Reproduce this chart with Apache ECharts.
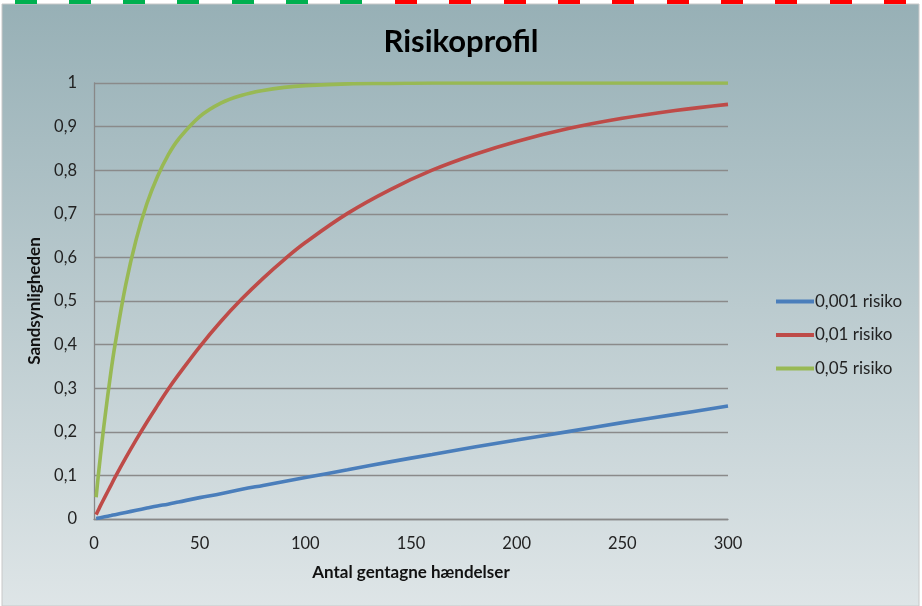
<!DOCTYPE html>
<html>
<head>
<meta charset="utf-8">
<script src="https://cdn.jsdelivr.net/npm/echarts@6/dist/echarts.min.js"></script>
<style>
html,body{margin:0;padding:0;background:#fff;}
#chart{width:922px;height:606px;}
</style>
</head>
<body>
<div id="chart"></div>
<script>
// Data
const titleText = "Risikoprofil";
const xName = "Antal gentagne hændelser";
const yName = "Sandsynligheden";
const seriesNames = ["0,001 risiko", "0,01 risiko", "0,05 risiko"];
const xValues = [1, 2, 3, 5, 8, 10, 15, 20, 25, 30, 35, 40, 50, 60, 70, 80, 90, 100, 120, 140, 160, 180, 200, 225, 250, 275, 300];
const risk0001 = [0.001, 0.002, 0.003, 0.005, 0.008, 0.010, 0.015, 0.020, 0.025, 0.030, 0.034, 0.039, 0.049, 0.058, 0.068, 0.077, 0.086, 0.095, 0.113, 0.131, 0.148, 0.165, 0.181, 0.201, 0.221, 0.240, 0.259];
const risk001 = [0.010, 0.020, 0.030, 0.049, 0.077, 0.096, 0.140, 0.182, 0.222, 0.260, 0.297, 0.331, 0.395, 0.453, 0.505, 0.552, 0.595, 0.634, 0.701, 0.755, 0.800, 0.836, 0.866, 0.896, 0.919, 0.937, 0.951];
const risk005 = [0.050, 0.098, 0.143, 0.226, 0.337, 0.401, 0.537, 0.642, 0.723, 0.785, 0.834, 0.871, 0.923, 0.954, 0.972, 0.983, 0.990, 0.994, 0.998, 0.999, 1.000, 1.000, 1.000, 1.000, 1.000, 1.000, 1.000];
const xTicks = {min: 0, max: 300, interval: 50};
const yTicks = {min: 0, max: 1, interval: 0.1};

const colors = ["#4a7ebb", "#be4b48", "#98b954"];
const pair = (ys) => xValues.map((x, i) => [x, ys[i]]);

// decorative dashed strip on top
const dashGraphics = [];
const greenStarts = [15, 69, 123, 177, 232, 286, 340];
const redStarts = [395, 449, 504, 558, 612, 667, 721, 775, 830, 884];
greenStarts.forEach(x => dashGraphics.push({type:'rect', shape:{x:x, y:0, width:22, height:4}, style:{fill:'#00b050'}}));
redStarts.forEach(x => dashGraphics.push({type:'rect', shape:{x:x, y:0, width:22, height:4}, style:{fill:'#ff0000'}}));

const chart = echarts.init(document.getElementById('chart'));
const fontFam = 'Lato, "Open Sans", sans-serif';
chart.setOption({
  backgroundColor: '#ffffff',
  animation: false,
  color: colors,
  graphic: [
    {type:'rect', z:-10, silent:true, shape:{x:2, y:4, width:917, height:602},
     style:{fill:{type:'linear', x:0, y:0, x2:0, y2:1, colorStops:[{offset:0, color:'#97b0b6'},{offset:1, color:'#dee5e7'}]}, stroke:'#c8c8c8', lineWidth:1}}
  ].concat(dashGraphics),
  title: {
    text: titleText,
    left: 'center',
    top: 21,
    textStyle: {fontFamily: fontFam, fontSize: 31, fontWeight: 'bold', color: '#000'}
  },
  legend: {
    orient: 'vertical',
    left: 771,
    top: 288,
    itemWidth: 38,
    itemHeight: 14,
    itemGap: 16.5,
    icon: 'path://M0,5 L38,5 L38,9 L0,9 Z',
    textStyle: {fontFamily: fontFam, fontSize: 17, color: '#222', padding:[0,0,0,-4]},
    data: seriesNames
  },
  grid: {left: 94, right: 194, top: 83, bottom: 87, containLabel: false},
  xAxis: {
    type: 'value',
    min: xTicks.min, max: xTicks.max, interval: xTicks.interval,
    name: xName,
    nameLocation: 'middle',
    nameGap: 45,
    nameTextStyle: {fontFamily: fontFam, fontSize: 17, fontWeight: 'bold', color: '#111'},
    axisLine: {show: true, lineStyle: {color: '#888', width: 1.3}},
    axisTick: {show: false},
    axisLabel: {fontFamily: fontFam, fontSize: 16.5, color: '#222', margin: 16},
    splitLine: {show: false}
  },
  yAxis: {
    type: 'value',
    min: yTicks.min, max: yTicks.max, interval: yTicks.interval,
    name: yName,
    nameLocation: 'middle',
    nameGap: 49,
    nameRotate: 90,
    nameTextStyle: {fontFamily: fontFam, fontSize: 17, fontWeight: 'bold', color: '#111'},
    axisLine: {show: true, lineStyle: {color: '#888', width: 1.3}},
    axisTick: {show: false},
    axisLabel: {fontFamily: fontFam, fontSize: 16.5, color: '#222', margin: 17,
      formatter: v => String(+v.toFixed(1)).replace('.', ',')},
    splitLine: {show: true, lineStyle: {color: '#8a8a8a', width: 1.3}}
  },
  series: [
    {name: seriesNames[0], type: 'line', data: pair(risk0001), smooth: 0.4, symbol: 'none', lineStyle: {width: 3.6, color: colors[0]}},
    {name: seriesNames[1], type: 'line', data: pair(risk001), smooth: 0.4, symbol: 'none', lineStyle: {width: 3.6, color: colors[1]}},
    {name: seriesNames[2], type: 'line', data: pair(risk005), smooth: 0.4, symbol: 'none', lineStyle: {width: 3.6, color: colors[2]}, z: 3}
  ]
});
</script>
</body>
</html>
